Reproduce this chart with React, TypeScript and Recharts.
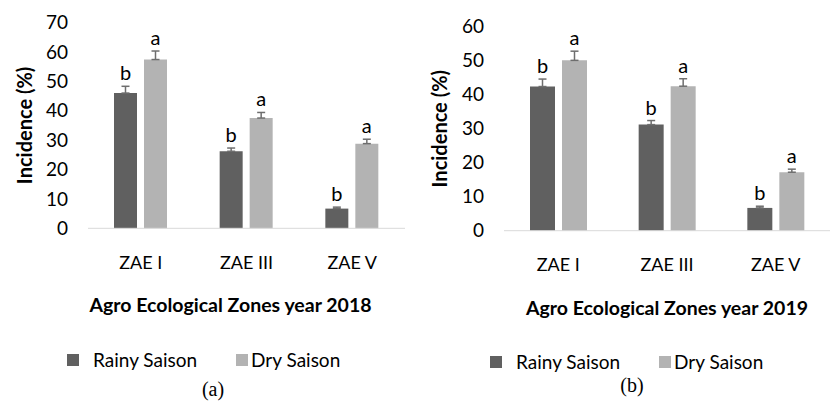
import { BarChart, Bar, XAxis, YAxis, ErrorBar, LabelList, Legend, Label } from 'recharts';

const zones = ['ZAE I', 'ZAE III', 'ZAE V'];

const rainy2018 = [46, 26.2, 6.7];
const rainyErr2018 = [2.3, 1.1, 0.5];
const dry2018 = [57.4, 37.5, 28.8];
const dryErr2018 = [2.9, 1.9, 1.5];

const rainy2019 = [42.4, 31.2, 6.7];
const rainyErr2019 = [2.2, 1.2, 0.5];
const dry2019 = [50.1, 42.5, 17.2];
const dryErr2019 = [2.7, 2.2, 0.9];

const rainyLetters = ['b', 'b', 'b'];
const dryLetters = ['a', 'a', 'a'];

const ticks2018 = [0, 10, 20, 30, 40, 50, 60, 70];
const ticks2019 = [0, 10, 20, 30, 40, 50, 60];

const seriesOrder = ['rainy', 'dry'];

const DARK = '#606060';
const LIGHT = '#b3b3b3';
const ERR = '#6e6e6e';
const FONT = 'Lato, sans-serif';

const buildRows = (rainy: number[], rainyErr: number[], dry: number[], dryErr: number[]) =>
  zones.map((z, i) => ({
    zone: z,
    rainy: rainy[i],
    rainyErr: [0, rainyErr[i]],
    rainyLetter: rainyLetters[i],
    dry: dry[i],
    dryErr: [0, dryErr[i]],
    dryLetter: dryLetters[i],
  }));

const rows2018 = buildRows(rainy2018, rainyErr2018, dry2018, dryErr2018);
const rows2019 = buildRows(rainy2019, rainyErr2019, dry2019, dryErr2019);

// letter sits just above the error bar cap
const letterLabel = (values: number[], errs: number[]) => (p: any) => {
  const { x, y, width, height, value, index } = p;
  const v = values[index];
  const pxPerUnit = v ? height / v : 0;
  const top = y - errs[index] * pxPerUnit;
  return (
    <text x={x + width / 2} y={top - 6} textAnchor="middle" fontSize={20} fontFamily={FONT} fill="#000">
      {value}
    </text>
  );
};

function SeasonLegend({ payload }: any) {
  const items = seriesOrder
    .map((k) => (payload || []).find((e: any) => e.dataKey === k))
    .filter(Boolean);
  return (
    <div style={{ display: 'flex', alignItems: 'center', fontFamily: FONT, fontSize: 19, color: '#000' }}>
      {items.map((e: any, i: number) => (
        <div key={e.value} style={{ display: 'flex', alignItems: 'center', marginRight: i === 0 ? 39 : 0 }}>
          <span style={{ width: 12, height: 12, background: e.color, marginRight: i === 0 ? 14 : 3 }} />
          <span>{e.value}</span>
        </div>
      ))}
    </div>
  );
}

function SeasonChart({
  rows,
  ticks,
  rainy,
  rainyErr,
  dry,
  dryErr,
  title,
  width,
  top,
  left,
  right,
  bottom,
  barSize,
  titleShift,
  legendLeft,
  legendTop,
}: any) {
  return (
    <BarChart
      width={width}
      height={409}
      data={rows}
      barSize={barSize}
      barGap={7}
      margin={{ top, right, left: 0, bottom }}
    >
      <XAxis
        dataKey="zone"
        height={60}
        tickLine={false}
        tickMargin={22}
        axisLine={{ stroke: '#d9d9d9' }}
        tick={{ fill: '#000', fontSize: 18, fontFamily: FONT }}
      >
        <Label
          content={({ viewBox }: any) => (
            <text
              x={viewBox.x + viewBox.width / 2 + titleShift}
              y={viewBox.y + 84}
              textAnchor="middle"
              fontSize={19.5}
              fontWeight="bold"
              fontFamily={FONT}
              fill="#000"
            >
              {title}
            </text>
          )}
        />
      </XAxis>
      <YAxis
        width={left}
        domain={[0, ticks[ticks.length - 1]]}
        ticks={ticks}
        axisLine={false}
        tickLine={false}
        tickMargin={14}
        tick={{ fill: '#000', fontSize: 19, fontFamily: FONT }}
      >
        <Label
          content={({ viewBox }: any) => {
            const cx = 24;
            const cy = viewBox.y + viewBox.height / 2;
            return (
              <text
                x={cx}
                y={cy}
                transform={`rotate(-90 ${cx} ${cy})`}
                textAnchor="middle"
                dominantBaseline="central"
                fontSize={20}
                fontWeight="bold"
                fontFamily={FONT}
                fill="#000"
              >
                Incidence (%)
              </text>
            );
          }}
        />
      </YAxis>
      <Legend
        verticalAlign="middle"
        align="center"
        layout="horizontal"
        content={<SeasonLegend />}
        wrapperStyle={{ left: legendLeft, top: legendTop, width: 330, height: 24 }}
      />
      <Bar dataKey="rainy" name="Rainy Saison" fill={DARK} isAnimationActive={false}>
        <ErrorBar dataKey="rainyErr" direction="y" width={4} stroke={ERR} strokeWidth={1.5} />
        <LabelList dataKey="rainyLetter" content={letterLabel(rainy, rainyErr)} />
      </Bar>
      <Bar dataKey="dry" name="Dry Saison" fill={LIGHT} isAnimationActive={false}>
        <ErrorBar dataKey="dryErr" direction="y" width={4} stroke={ERR} strokeWidth={1.5} />
        <LabelList dataKey="dryLetter" content={letterLabel(dry, dryErr)} />
      </Bar>
    </BarChart>
  );
}

export default function App() {
  return (
    <div style={{ position: 'absolute', left: 0, top: 0, width: 831, height: 409, background: '#fff' }}>
      <div style={{ position: 'absolute', left: 0, top: 0 }}>
        <SeasonChart
          rows={rows2018}
          ticks={ticks2018}
          rainy={rainy2018}
          rainyErr={rainyErr2018}
          dry={dry2018}
          dryErr={dryErr2018}
          title="Agro Ecological Zones year 2018"
          width={415}
          top={22.5}
          left={88}
          right={10}
          bottom={120.7}
          barSize={23}
          titleShift={-16}
          legendLeft={67}
          legendTop={348}
        />
      </div>
      <div style={{ position: 'absolute', left: 415, top: 0 }}>
        <SeasonChart
          rows={rows2019}
          ticks={ticks2019}
          rainy={rainy2019}
          rainyErr={rainyErr2019}
          dry={dry2019}
          dryErr={dryErr2019}
          title="Agro Ecological Zones year 2019"
          width={416}
          top={26.7}
          left={89}
          right={1}
          bottom={118.3}
          barSize={25}
          titleShift={0}
          legendLeft={75}
          legendTop={350}
        />
      </div>
      <div style={{ position: 'absolute', left: 193, top: 378, width: 40, textAlign: 'center', fontFamily: '"Liberation Serif", serif', fontSize: 20 }}>
        (a)
      </div>
      <div style={{ position: 'absolute', left: 612, top: 374, width: 40, textAlign: 'center', fontFamily: '"Liberation Serif", serif', fontSize: 20 }}>
        (b)
      </div>
    </div>
  );
}
